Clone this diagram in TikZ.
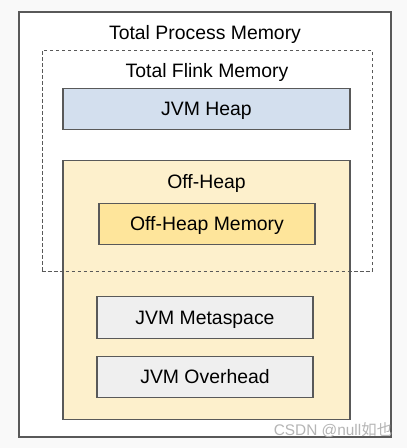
\documentclass[tikz,border=0pt]{standalone}
\usepackage{fontspec}
\setmainfont{Liberation Sans}
\newfontfamily\cjkfont{Noto Sans CJK SC}
\usetikzlibrary{positioning}
\definecolor{bgray}{HTML}{F9F9F9}
\definecolor{boxline}{HTML}{595959}
\definecolor{heapblue}{HTML}{D3DFEE}
\definecolor{offyellow}{HTML}{FDF0CC}
\definecolor{memyellow}{HTML}{FEE59B}
\definecolor{jvmgray}{HTML}{EFEFEF}
\definecolor{wmgray}{HTML}{B5B5B5}

\begin{document}
\begin{tikzpicture}[x=1pt,y=-1pt,on grid,
   every node/.style={font=\fontsize{19.4}{23}\selectfont,inner sep=0pt,text height=13.9pt,text depth=0pt},
   membox/.style={draw=boxline,line width=1.3pt,minimum width=287pt,minimum height=41pt},
   subbox/.style={membox,minimum width=216pt},
   wmark/.style={font=\fontsize{15.4}{18}\selectfont,text=wmgray,text height=11pt}]
   \fill[bgray] (0,0) rectangle (407,448);
   \node[draw=boxline,line width=1.3pt,fill=white,minimum width=372pt,minimum height=425pt] (proc) at (205,224.5) {};
   \node (ptitle) [below=14pt of proc.north] {Total Process Memory};
   \node[draw=boxline,line width=1pt,dash pattern=on 3.5pt off 2.5pt,minimum width=330pt,minimum height=221pt] (flink) [above=64pt of proc,xshift=2pt] {};
   \node (ftitle) [below=14pt of flink.north] {Total Flink Memory};
   \node[membox,fill=heapblue] (heap) [below=38pt of flink.north,xshift=-0.5pt] {JVM Heap};
   \node[membox,fill=offyellow,minimum height=259pt] (off) [below=181pt of heap] {};
   \node (otitle) [below=15pt of off.north] {Off-Heap};
   \node[subbox,fill=memyellow] (offmem) [below=43pt of off.north,xshift=0.5pt] {Off-Heap Memory};
   \node[subbox,fill=jvmgray,minimum height=42pt] (meta) [below=93.5pt of offmem,xshift=-2pt] {JVM Metaspace};
   \node[subbox,fill=jvmgray] (over) [below=59.5pt of meta] {JVM Overhead};
   % dashed line runs over the off-heap box
   \draw[boxline,line width=1pt,dash pattern=on 3.5pt off 2.5pt] (flink.south west) -- (flink.south east);
   \node[wmark] (csdn) at (333,430) {CSDN @null{\cjkfont 如也}};
\end{tikzpicture}
\end{document}
